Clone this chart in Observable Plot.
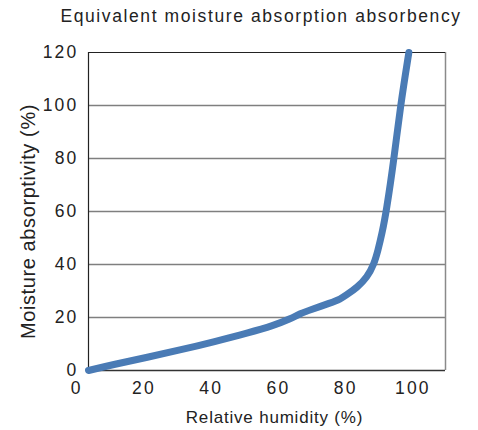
<!DOCTYPE html>
<html>
<head>
<meta charset="utf-8">
<script src="https://cdn.jsdelivr.net/npm/d3@7"></script>
<script src="https://cdn.jsdelivr.net/npm/@observablehq/plot@0.6"></script>
<style>
  html, body { margin: 0; padding: 0; background: #fff; }
  .tick-lab text { letter-spacing: 2.2px; }
  .title-lab text { letter-spacing: 1.6px; }
  .xlab text { letter-spacing: 0.8px; }
  .ylab text { letter-spacing: 0.6px; }
</style>
</head>
<body>
<div id="chart"></div>
<script>
const title = "Equivalent moisture absorption absorbency";
const xLabel = "Relative humidity (%)";
const yLabel = "Moisture absorptivity (%)";
const humidity = [3.5, 11, 21, 31, 41, 51, 58.6, 63.6, 66.5, 69.6, 75.5, 78.5, 80, 83.5, 86.4, 88.4, 89.6, 90.8, 92.1, 94.4, 96.3, 98.8];
const absorptivity = [0, 2.3, 5.0, 7.8, 10.9, 14.2, 17.0, 19.5, 21.5, 22.9, 25.5, 27, 28.3, 31.4, 35.2, 40, 45.3, 51.6, 60, 80, 100, 120];
const xTicks = [0, 20, 40, 60, 80, 100];
const yTicks = [0, 20, 40, 60, 80, 100, 120];
const gridTicks = [20, 40, 60, 80, 100];
const xDomain = [3.5, 109.7];
const yDomain = [0, 120];

const data = humidity.map((h, i) => ({h, a: absorptivity[i]}));

const chart = Plot.plot({
  width: 478,
  height: 430,
  marginLeft: 88,
  marginRight: 33,
  marginTop: 52,
  marginBottom: 60,
  style: {fontFamily: "'Liberation Sans', Arial, sans-serif", fontSize: "16px", color: "#222", background: "#fff"},
  x: {domain: xDomain, axis: null},
  y: {domain: yDomain, axis: null},
  marks: [
    Plot.ruleY(gridTicks, {stroke: "#7f7f7f", strokeWidth: 1.5}),
    Plot.ruleX([xDomain[1]], {stroke: "#8a8a8a", strokeWidth: 1.5}),
    Plot.ruleY([yDomain[1]], {stroke: "#222", strokeWidth: 1.2}),
    Plot.ruleY([yDomain[0]], {stroke: "#333", strokeWidth: 1.5}),
    Plot.ruleX([xDomain[0]], {stroke: "#222", strokeWidth: 1.2}),
    Plot.line(data, {x: "h", y: "a", curve: "basis", stroke: "#4a7bb5", strokeWidth: 7, strokeLinecap: "round", strokeLinejoin: "round"}),
    Plot.text(xTicks, {x: d => d, frameAnchor: "bottom", dy: 18, text: d => String(d), fontSize: 17.5, fill: "#222", className: "tick-lab", lineAnchor: "middle"}),
    Plot.text(yTicks, {y: d => d, frameAnchor: "left", dx: -10, textAnchor: "end", text: d => String(d), fontSize: 17.5, fill: "#222", className: "tick-lab", lineAnchor: "middle"}),
    Plot.text([title], {frameAnchor: "top", dy: -36, dx: -6, fontSize: 17.5, fill: "#222", className: "title-lab", lineAnchor: "middle"}),
    Plot.text([xLabel], {frameAnchor: "bottom", dy: 47, dx: 7.5, fontSize: 17, fill: "#222", className: "xlab", lineAnchor: "middle"}),
    Plot.text([yLabel], {frameAnchor: "left", dx: -60, dy: 10, rotate: -90, textAnchor: "middle", fontSize: 20, fill: "#222", className: "ylab", lineAnchor: "middle"})
  ]
});
document.getElementById("chart").appendChild(chart);
</script>
</body>
</html>
